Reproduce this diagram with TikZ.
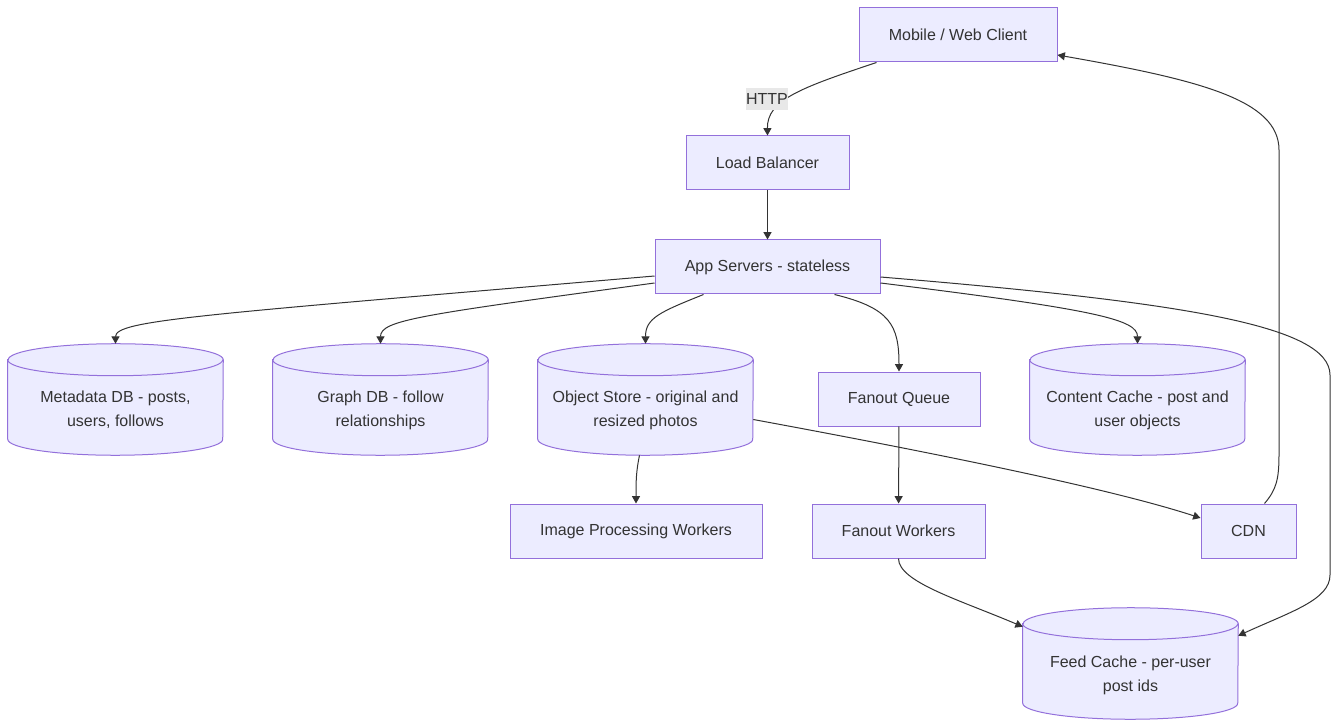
\documentclass[tikz,border=0pt]{standalone}
\usepackage{fontspec}
\setmainfont{Liberation Sans}
\usetikzlibrary{arrows.meta,calc}
\definecolor{nfill}{HTML}{ECECFF}
\definecolor{nline}{HTML}{9370DB}
\definecolor{ink}{HTML}{333333}
\definecolor{lblbg}{HTML}{E8E8E8}
\newcommand\mycyl[1]{%
  \path[fill=nfill,draw=nline,line width=0.75pt]
    ($(#1.north west)+(0,16)$) -- ($(#1.south west)+(0,-16)$)
    arc[start angle=180,end angle=360,x radius=80.625pt,y radius=12pt]
    -- ($(#1.north east)+(0,16)$)
    arc[start angle=0,end angle=180,x radius=80.625pt,y radius=12pt] -- cycle;
  \draw[draw=nline,line width=0.75pt] ($(#1.north west)+(0,16)$)
    arc[start angle=180,end angle=360,x radius=80.625pt,y radius=12pt];}
\begin{document}
\begin{tikzpicture}[x=0.75pt,y=-0.75pt,
  font=\fontsize{12}{18}\selectfont,
  box/.style={draw=nline,fill=nfill,line width=0.75pt,text=ink,minimum height=40.5pt,inner sep=0pt},
  cylbox/.style={minimum width=161.25pt,minimum height=83.25pt,inner sep=0pt},
  cyltext/.style={text=ink,align=center,inner sep=0pt},
  edge/.style={draw=ink,line width=0.75pt,-{Triangle[length=5.5pt,width=6pt]}},
  lbl/.style={fill=lblbg,text=ink,inner sep=0pt,minimum width=31.5pt,minimum height=16.5pt}]
\useasboundingbox (0,0) rectangle (1339,727);
% rectangles
\node[box,minimum width=148.5pt] (client) at (958,35) {Mobile / Web Client};
\node[box,minimum width=122.25pt] (lb) at (767.5,163) {Load Balancer};
\node[box,minimum width=168.75pt] (app) at (767.5,267) {App Servers - stateless};
\node[box,minimum width=121.5pt] (fq) at (899,399) {Fanout Queue};
\node[box,minimum width=189pt] (iw) at (636,531) {Image Processing Workers};
\node[box,minimum width=129.75pt] (fw) at (898.5,531) {Fanout Workers};
\node[box,minimum width=71.25pt] (cdn) at (1248.5,531) {CDN};
% cylinders
\node[cylbox] (meta) at (115.5,399.5) {};
\node[cylbox] (graph) at (380.5,399.5) {};
\node[cylbox] (obj) at (645.5,399.5) {};
\node[cylbox] (cc) at (1137.5,399.5) {};
\node[cylbox] (fc) at (1130.5,663.5) {};
\mycyl{meta}\mycyl{graph}\mycyl{obj}\mycyl{cc}\mycyl{fc}
\node[cyltext] (metat) at (115.5,410) {Metadata DB - posts,\\users, follows};
\node[cyltext] (grapht) at (380.5,410) {Graph DB - follow\\relationships};
\node[cyltext] (objt) at (645.5,410) {Object Store - original and\\resized photos};
\node[cyltext] (cct) at (1137.5,410) {Content Cache - post and\\user objects};
\node[cyltext] (fct) at (1130.5,675) {Feed Cache - per-user\\post ids};
% edges
\draw[edge] ($(client.south west)+(18,0)$) .. controls (800,88) and (767,100) .. (lb.north);
\node[lbl] (http) at (767,99) {HTTP};
\draw[edge] (lb) -- (app);
\draw[edge] ($(app.west)+(0,9)$) .. controls (200,315) and (115.5,320) .. (meta.north);
\draw[edge] ($(app.west)+(0,16)$) .. controls (420,315) and (380.5,320) .. (graph.north);
\draw[edge] ($(app.south west)+(49,0)$) .. controls (660,312) and (645.5,318) .. (obj.north);
\draw[edge] ($(app.south west)+(180,0)$) .. controls (890,308) and (899,325) .. (fq.north);
\draw[edge] ($(app.east)+(0,16)$) .. controls (1100,310) and (1137.5,320) .. (cc.north);
\draw[edge] ($(app.east)+(0,10)$) .. controls (1180,302) and (1330,325) .. (1330,375) -- (1330,575) .. controls (1330,600) and (1290,612) .. ($(fc.north east)+(0,28)$);
\draw[edge] (fq) -- (fw);
\draw[edge] (fw.south) .. controls (898.5,582) and (960,600) .. ($(fc.north west)+(0,19)$);
\draw[edge] ($(obj.south)+(-6,0)$) .. controls (636,472) and (636,482) .. (iw.north);
\draw[edge] ($(obj.east)+(0,20)$) .. controls (1000,465) and (1130,495) .. ($(cdn.west)+(0,-13)$);
\draw[edge] ($(cdn.north)+(16,0)$) .. controls (1276,490) and (1279,480) .. (1279,455) -- (1279,150) .. controls (1279,100) and (1200,80) .. ($(client.east)+(0,20)$);
\end{tikzpicture}
\end{document}
